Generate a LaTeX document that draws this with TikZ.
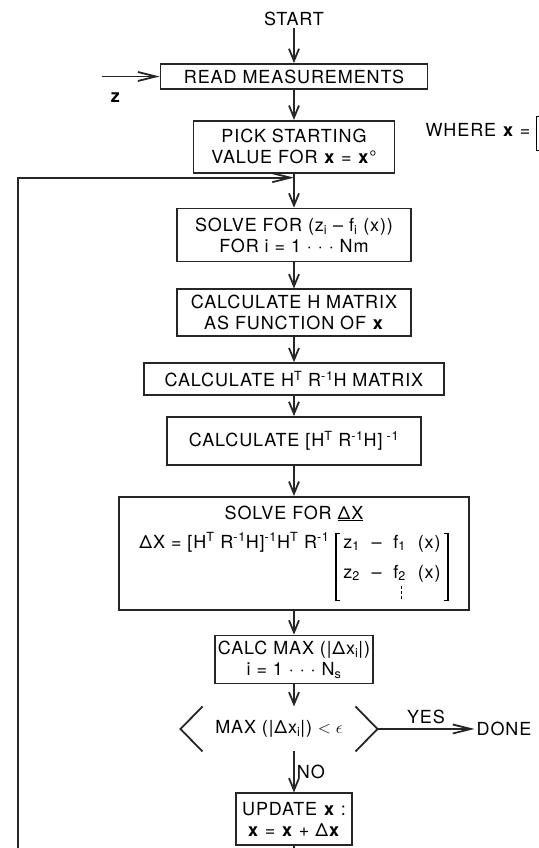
\documentclass[tikz,border=0pt]{standalone}
\usepackage{fontspec}
\setmainfont{TeX Gyre Heros}[LetterSpace=5.0]
\usepackage{tikz}
\usetikzlibrary{arrows.meta, positioning, calc}
\newcommand\bxfont{\fontsize{18}{21}\selectfont}
\newcommand\dashbar{\vbox{\hbox{\rule{1pt}{3pt}}\vskip2pt\hbox{\rule{1pt}{3pt}}\vskip2pt\hbox{\rule{1pt}{3pt}}}}
% square brackets from rules: #1 depth below baseline, #2 total height
\newcommand\brkopen[2]{\rlap{\rule[-#1]{1.2pt}{#2}}\rlap{\rule[\dimexpr#2-#1-1.2pt]{5pt}{1.2pt}}\rule[-#1]{5pt}{1.2pt}}
\newcommand\brkclose[2]{\rlap{\rule[-#1]{5pt}{1.2pt}}\rlap{\rule[\dimexpr#2-#1-1.2pt]{5pt}{1.2pt}}\hspace{3.8pt}\rule[-#1]{1.2pt}{#2}}
\tikzset{
  box/.style  = {rectangle, draw=black!85, line width=1.8pt, align=center,
                 font=\bxfont, inner sep=3pt},
  lbl/.style  = {font=\bxfont, inner sep=2pt, align=center},
  arr/.style  = {-{Straight Barb[length=12pt,width=10pt]}, line width=1.8pt, draw=black!85},
  harr/.style = {-{Straight Barb[length=18pt,width=9pt]}, line width=1.8pt, draw=black!85,
                 line join=miter},
  flow/.style = {line width=1.8pt, draw=black!85}
}

\begin{document}
\begin{tikzpicture}[node distance=25pt and 0pt]
  \path[use as bounding box, fill=white] (-294pt,19pt) rectangle (244pt,-829pt);
  \node[lbl] (start) {START};
  \node[box, minimum width=267pt, minimum height=25pt] (read) [below=35pt of start] {READ MEASUREMENTS};
  \node[box, minimum width=201pt, minimum height=52pt] (pick) [below=30pt of read] {PICK STARTING\\VALUE FOR \textbf{x} = \textbf{x}°};
  \node[box, minimum width=234pt, minimum height=53pt] (solve) [below=34pt of pick] {SOLVE FOR (z\textsubscript{i} -- f\textsubscript{i} (x))\\FOR i = 1 · · · Nm};
  \node[box, minimum width=234pt, minimum height=47pt] (hmat) [below=26pt of solve] {CALCULATE H MATRIX\\AS FUNCTION OF \textbf{x}};
  \node[box, minimum width=300pt, minimum height=32pt] (hrh) [below=of hmat] {CALCULATE H\textsuperscript{T} R\textsuperscript{-1}H MATRIX};
  \node[box, minimum width=254pt, minimum height=48pt] (inv) [below=20pt of hrh] {CALCULATE [H\textsuperscript{T} R\textsuperscript{-1}H]\textsuperscript{ -1}};
  \node[box, minimum width=350pt, minimum height=113pt] (dx) [below=30pt of inv] {SOLVE FOR \underline{ΔX}\\[8pt]
    ΔX = [H\textsuperscript{T} R\textsuperscript{-1}H]\textsuperscript{-1}H\textsuperscript{T} R\textsuperscript{-1}
    \brkopen{53pt}{68pt}\,\begin{tabular}[t]{@{}l@{}}z\textsubscript{1} ~--~ f\textsubscript{1} ~(x)\\[9pt]
      z\textsubscript{2} ~--~ f\rlap{\raisebox{-21pt}[0pt][0pt]{\,\dashbar}}\textsubscript{2} ~(x)\end{tabular}\,\brkclose{53pt}{68pt}};
  \node[box, minimum width=140pt, minimum height=48pt] (calc) [below=24pt of dx] {CALC MAX (|Δx\textsubscript{i}|)\\i = 1 · · · N\textsubscript{s}};
  \node[lbl, minimum width=197pt, minimum height=45pt, outer sep=0pt] (test) [below=22pt of calc, xshift=-15pt] {MAX (|Δx\textsubscript{i}|) $<\epsilon$};
  \node[lbl] (done) [right=97pt of test] {DONE};
  \node[box, minimum width=116pt, minimum height=52pt] (upd) [below=41pt of test, xshift=15pt] {UPDATE \textbf{x} :\\\textbf{x} = \textbf{x} + Δ\textbf{x}};
  \node[lbl, anchor=base west] (where) at ([xshift=28pt,yshift=10pt]pick.east) {WHERE \textbf{x} = \brkopen{14pt}{35pt}};
  % decision brackets
  \draw[flow] ([xshift=22pt]test.north west) -- (test.west) -- ([xshift=22pt]test.south west);
  \draw[flow] ([xshift=-22pt]test.north east) -- (test.east) -- ([xshift=-22pt]test.south east);
  \coordinate (zin) at ([xshift=-58pt]read.west);
  \node[lbl] (zlab) [below right=14pt and 7pt of zin] {\textbf{z}};
  \coordinate (join) at ([yshift=-4pt]pick.south);
  \coordinate (lc) at ([shift={(-276pt,-13pt)}]upd.south);
  \draw[arr] (start)--(read); \draw[arr] (read)--(pick); \draw[arr] (pick)--(solve);
  \draw[arr] (solve)--(hmat); \draw[arr] (hmat)--(hrh); \draw[arr] (hrh)--(inv);
  \draw[arr] (inv)--(dx); \draw[arr] (dx)--(calc); \draw[arr] (calc)--(calc |- test.north);
  \draw[arr] (calc |- test.south) -- node[lbl, right] {NO} (upd);
  \draw[harr] (test.east) -- node[lbl, above, inner sep=4pt] {YES} (done);
  \draw[harr] (zin) -- (read);
  \draw[harr] (upd.south) |- (lc) |- (join);
\end{tikzpicture}
\end{document}
